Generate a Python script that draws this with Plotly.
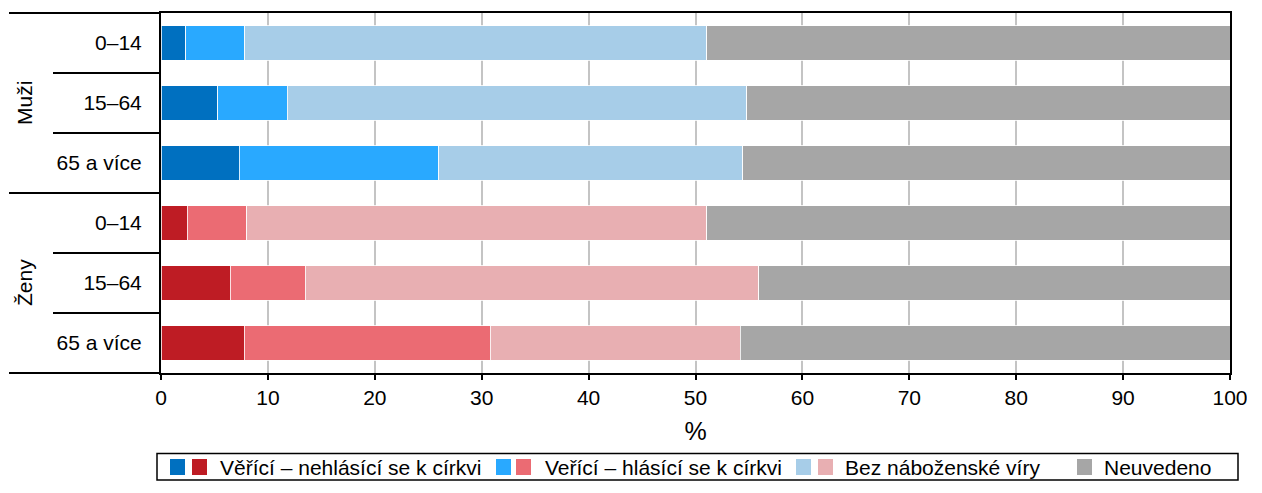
import plotly.graph_objects as go

# ---- data ----
groups = ["Muži", "Muži", "Muži", "Ženy", "Ženy", "Ženy"]
ages = ["0–14", "15–64", "65 a více", "0–14", "15–64", "65 a více"]
nehlasici = [2.3, 5.3, 7.3, 2.45, 6.5, 7.8]
hlasici = [5.55, 6.5, 18.7, 5.55, 7.0, 23.0]
bez = [43.2, 43.0, 28.4, 43.05, 42.4, 23.4]
neuvedeno = [48.95, 45.2, 45.6, 48.95, 44.1, 45.8]

series_names = ["Věřící – nehlásící se k církvi", "Veřící – hlásící se k církvi",
                "Bez náboženské víry", "Neuvedeno"]
colors_muzi = ["#0070C0", "#29A9FF", "#A7CDE8", "#A6A6A6"]
colors_zeny = ["#BE1C24", "#EB6B73", "#E8AFB2", "#A6A6A6"]
x_ticks = [0, 10, 20, 30, 40, 50, 60, 70, 80, 90, 100]

# page has an 8px body margin; keep everything inside the visible viewport
OFF = 8
VIS_RIGHT = 1247
W, H = VIS_RIGHT - OFF, 493 - 2 * OFF - 4
PX0, PX1, PY0, PY1 = 161, 1230, 13, 373   # plot area in page pixels
ML, MR, MT, MB = PX0 - OFF, (OFF + W) - PX1, PY0 - OFF, (OFF + H) - PY1
PW, PH = PX1 - PX0, PY1 - PY0
FONT = "Arial, Liberation Sans, sans-serif"
FS = 21


def px(x):
    return (x - PX0) / PW


def py(y):
    return (PY1 - y) / PH


keys = [f"{g} {a}" for g, a in zip(groups, ages)]

fig = go.Figure()
for name, vals, i in zip(series_names, [nehlasici, hlasici, bez, neuvedeno], range(4)):
    cols = [colors_muzi[i] if g == "Muži" else colors_zeny[i] for g in groups]
    fig.add_trace(go.Bar(
        x=vals, y=keys, orientation="h", name=name,
        marker=dict(color=cols, line=dict(color="white", width=0.8)),
        showlegend=False, hoverinfo="x+name",
    ))

fig.update_layout(
    barmode="stack", bargap=0.43,
    width=W, height=H,
    margin=dict(l=ML, r=MR, t=MT, b=MB, autoexpand=False),
    paper_bgcolor="white", plot_bgcolor="white",
    font=dict(family=FONT, size=FS, color="black"),
)
fig.update_xaxes(
    range=[0, 100], tickvals=x_ticks, ticks="outside", ticklen=5, tickwidth=2,
    tickcolor="black", showline=True, linecolor="black", linewidth=2, mirror=True,
    showgrid=True, gridcolor="#C4C4C4", gridwidth=1.5, zeroline=False,
    title=dict(text="%", standoff=14), tickfont=dict(size=FS),
    ticklabeloverflow="allow", automargin=False,
)
fig.update_yaxes(
    categoryorder="array", categoryarray=keys, autorange="reversed",
    tickvals=keys, ticktext=ages, ticks="", ticklabelstandoff=13,
    showline=True, linecolor="black", linewidth=2, mirror=True,
    showgrid=False, zeroline=False, tickfont=dict(size=FS), automargin=False,
)

shapes = []
line = dict(color="black", width=2)
# hierarchical axis lines on the left
for yy, x0 in [(13, 9), (73, 53), (133, 53), (193, 9), (253, 53), (313, 53), (373, 9)]:
    shapes.append(dict(type="line", xref="paper", yref="paper",
                       x0=px(x0), x1=0, y0=py(yy), y1=py(yy), line=line))

annotations = []
for g, yc in [("Muži", 103), ("Ženy", 283)]:
    annotations.append(dict(text=g, xref="paper", yref="paper", x=px(24), y=py(yc),
                            showarrow=False, textangle=-90, xanchor="center", yanchor="middle",
                            font=dict(size=FS)))

# custom legend (two swatches per entry: men / women)
shapes.append(dict(type="rect", xref="paper", yref="paper",
                   x0=px(157), x1=px(1238), y0=py(453.5), y1=py(480),
                   line=dict(color="black", width=1.5), fillcolor="rgba(0,0,0,0)"))
leg_items = [
    ([colors_muzi[0], colors_zeny[0]], [170, 192], 218, series_names[0]),
    ([colors_muzi[1], colors_zeny[1]], [496, 516], 543, series_names[1]),
    ([colors_muzi[2], colors_zeny[2]], [796, 818], 843, series_names[2]),
    ([colors_muzi[3]], [1077], 1102, series_names[3]),
]
for cols, xs, tx, name in leg_items:
    for c, x0 in zip(cols, xs):
        shapes.append(dict(type="rect", xref="paper", yref="paper",
                           x0=px(x0), x1=px(x0 + 15), y0=py(459), y1=py(475),
                           line=dict(width=0), fillcolor=c))
    annotations.append(dict(text=name, xref="paper", yref="paper", x=px(tx), y=py(467),
                            showarrow=False, xanchor="left", yanchor="middle",
                            font=dict(size=FS)))

fig.update_layout(shapes=shapes, annotations=annotations)
fig.write_html("out.html")
